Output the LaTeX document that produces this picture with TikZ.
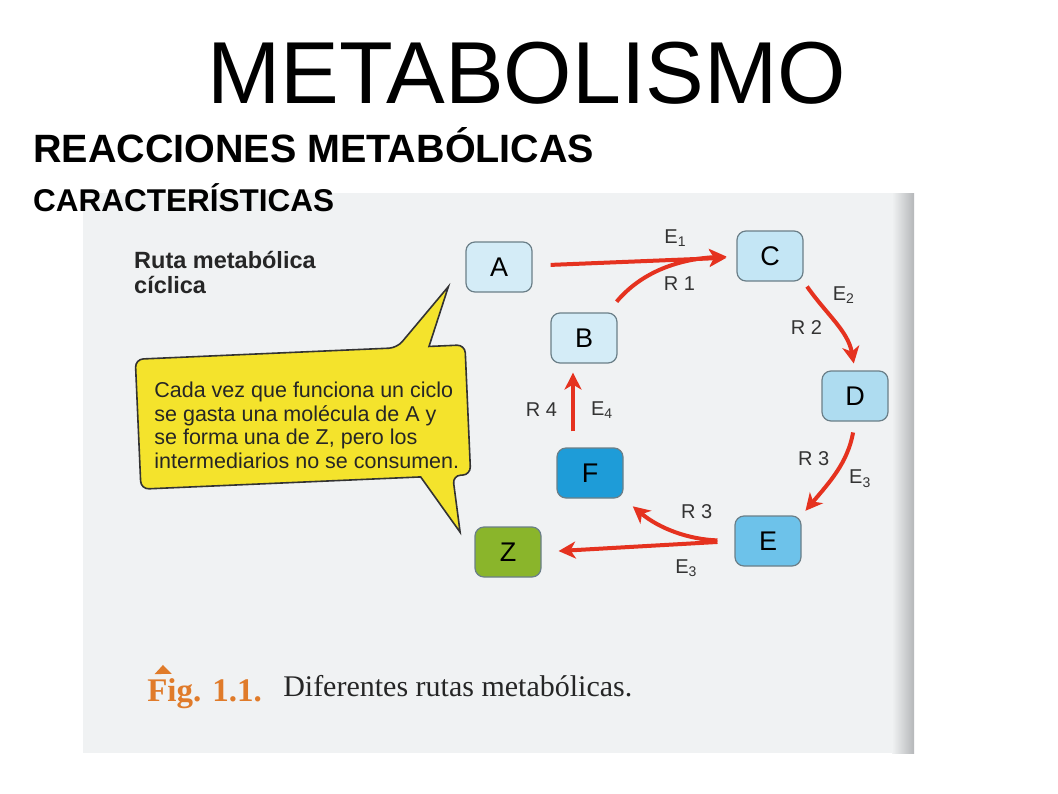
\documentclass[tikz,border=0pt]{standalone}
\usepackage{fontspec}
\setmainfont{Liberation Sans}
\newfontfamily\capfont{Liberation Serif}
\usepackage{xcolor}
\usepackage{tikz}
\usetikzlibrary{positioning,arrows.meta}

\definecolor{scanbg}{HTML}{F0F2F3}
\definecolor{gutter}{HTML}{B5B7B9}
\definecolor{molline}{HTML}{6B7F88}
\definecolor{molA}{HTML}{D4ECF7}
\definecolor{molC}{HTML}{C4E6F5}
\definecolor{molD}{HTML}{AEDCF0}
\definecolor{molE}{HTML}{6DC2EA}
\definecolor{molF}{HTML}{1E9CD8}
\definecolor{molZ}{HTML}{8AB52B}
\definecolor{rxred}{HTML}{E5321F}
\definecolor{noteyellow}{HTML}{F4E32C}
\definecolor{figorange}{HTML}{E07B2A}

\begin{document}
\begin{tikzpicture}
      [ x=1pt, y=-1pt, on grid,
        mol/.style={draw=molline, line width=1.2pt, rounded corners=9pt,
                    minimum width=66pt, minimum height=50pt, inner sep=0pt,
                    font=\fontsize{27}{27}\selectfont},
        rx/.style={draw=rxred, line width=4pt,
                   -{Stealth[length=17pt,width=17pt,inset=5pt]}},
        lbl/.style={font=\fontsize{20}{20}\selectfont, text=black!80, inner sep=1pt},
        heading/.style={anchor=base west, inner sep=0pt},
        callout/.style={fill=noteyellow, draw=black!80, line width=1.6pt}
      ]
      \useasboundingbox (0,0) rectangle (1058,793);
      \fill[white] (0,0) rectangle (1058,793);
      \fill[scanbg] (83,193) rectangle (914,753);
      \shade[left color=scanbg, right color=gutter] (892,193) rectangle (914,753);

      \node[heading, font=\fontsize{88}{88}\selectfont]            (title) at (207,103) {METABOLISMO};
      \node[heading, font=\bfseries\fontsize{39.5}{40}\selectfont] (sub)   at (33,162)  {REACCIONES METABÓLICAS};
      \node[heading, font=\bfseries\fontsize{31.5}{32}\selectfont] (feat)  at (33,211)  {CARACTERÍSTICAS};

      \node[anchor=north west, align=left, inner sep=0pt,
            font=\bfseries\fontsize{23.5}{25}\selectfont, text=black!85] (kind) at (134,251)
            {Ruta metabólica\\cíclica};

      % speech bubble
      \begin{scope}[rotate around={2.5:(303,418)}]
        \draw[callout] (138,420) [rounded corners=8pt] -- (138,352) -- (400,352)
              [sharp corners] -- (454,293) -- (432,352)
              [rounded corners=8pt] -- (468,352) -- (468,482) -- (450,482)
              [sharp corners] -- (455,539) -- (418,482)
              [rounded corners=8pt] -- (138,482) -- cycle;
        \node[anchor=west, align=left, inner sep=0pt,
              font=\fontsize{21.5}{23.5}\selectfont, text=black!85] (note) at (154,419)
              {Cada vez que funciona un ciclo\\se gasta una molécula de A y\\se forma una de Z, pero los\\intermediarios no se consumen.};
      \end{scope}

      \node[mol, fill=molA]             (A) at (499,267)              {A};
      \node[mol, fill=molC]             (C) [above right=11pt and 271pt of A]  {C};
      \node[mol, fill=molA]             (B) [below right=71pt and 85pt of A]   {B};
      \node[mol, fill=molD]             (D) [below right=140pt and 85pt of C]  {D};
      \node[mol, fill=molE]             (E) [below left=145pt and 87pt of D]   {E};
      \node[mol, fill=molF]             (F) [below right=135pt and 6pt of B]   {F};
      \node[mol, fill=molZ]             (Z) [below left=79pt and 82pt of F]    {Z};

      \path (A) edge[rx, shorten <=18pt, shorten >=10pt]
                  node[lbl, pos=0.7, above=10pt] {E\textsubscript{1}}
                  node[lbl, pos=0.72, below=14pt] {R 1} (C)
            ([xshift=-10pt]B.north east) edge[rx, out=50, in=183, shorten <=14pt, shorten >=10pt] (C.west)
            (C.south east) edge[rx, out=-55, in=100, shorten <=6pt, shorten >=7pt]
                  node[lbl, pos=0.15, right=16pt] {E\textsubscript{2}}
                  node[lbl, pos=0.55, left=13pt] {R 2} (D.north)
            (D.south) edge[rx, out=-100, in=50, shorten <=11pt, shorten >=6pt]
                  node[lbl, pos=0.35, left=11pt] {R 3}
                  node[lbl, pos=0.58, right=15pt] {E\textsubscript{3}} (E.north east)
            (E.west) edge[rx, shorten <=17pt, shorten >=17pt]
                  node[lbl, pos=0.25, below=13pt] {E\textsubscript{3}} (Z.east)
            (E.west) edge[rx, out=178, in=-40, shorten <=17pt, shorten >=12pt]
                  node[lbl, pos=0.3, above=15pt] {R 3} (F.south east)
            ([xshift=-17pt]F.north) edge[rx, shorten <=16pt, shorten >=9pt]
                  node[lbl, pos=0.45, left=13pt] {R 4}
                  node[lbl, pos=0.45, right=15pt] {E\textsubscript{4}} ([xshift=-11pt]B.south);

      % caption
      \begin{scope}[rotate around={1:(390,693)}]
        \fill[figorange] (155,670) -- (163.5,661) -- (172,670) -- cycle;
        \node[heading, font=\capfont\bfseries\fontsize{33}{33}\selectfont, text=figorange] (fig) at (147,697) {Fig. 1.1.};
        \node[heading, font=\capfont\fontsize{30}{30}\selectfont, text=black!85] (cap) at (283,695) {Diferentes rutas metabólicas.};
      \end{scope}
    \end{tikzpicture}
\end{document}
